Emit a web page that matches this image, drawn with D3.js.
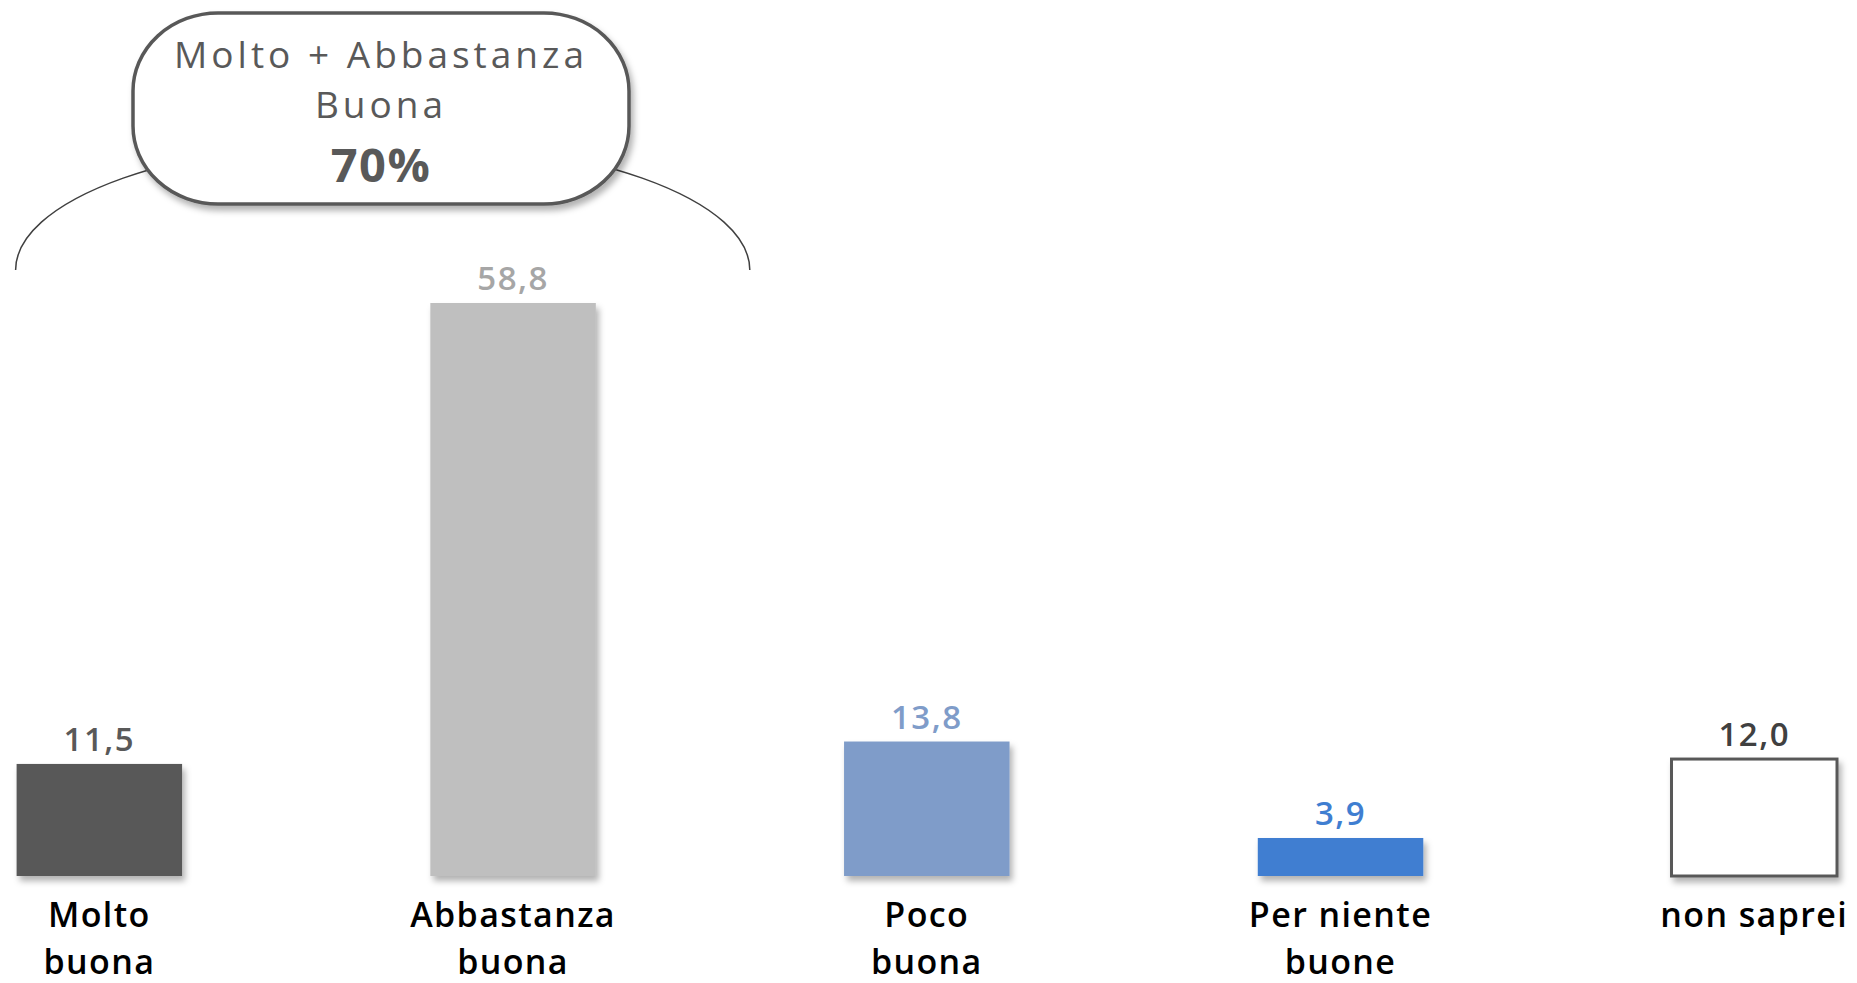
<!DOCTYPE html>
<html><head><meta charset="utf-8">
<script src="https://cdn.jsdelivr.net/npm/d3@7"></script>
<style>html,body{margin:0;padding:0;background:#fff;overflow:hidden}</style>
</head><body>
<svg id="chart" width="1857" height="983"></svg>
<script>
const categories = ["Molto buona", "Abbastanza buona", "Poco buona", "Per niente buone", "non saprei"];
const labelLines = [["Molto", "buona"], ["Abbastanza", "buona"], ["Poco", "buona"], ["Per niente", "buone"], ["non saprei"]];
const values = [11.5, 58.8, 13.8, 3.9, 12.0];
const barColors = ["#595959", "#BFBFBF", "#7F9CC9", "#3F7ED1", "#FFFFFF"];
const labelColors = ["#595959", "#A6A6A6", "#7F9CC9", "#3F7ED1", "#404040"];
const bubbleLines = ["Molto + Abbastanza", "Buona"];
const bubbleTotal = "70%";

const FONT = "'Open Sans', Lato, sans-serif";
const svg = d3.select("#chart");
const defs = svg.append("defs");
const f = defs.append("filter").attr("id","shadow").attr("x","-20%").attr("y","-20%").attr("width","150%").attr("height","150%");
f.append("feDropShadow").attr("dx",3).attr("dy",5).attr("stdDeviation",3).attr("flood-color","#000").attr("flood-opacity",0.3);

const x = d3.scaleBand().domain(categories).range([16.6, 1837]).paddingInner(0.6).paddingOuter(0);
const y = d3.scaleLinear().domain([0, 60]).range([876, 291.3]);

svg.selectAll("rect.bar").data(values).join("rect")
  .attr("class","bar")
  .attr("x",(d,i)=>x(categories[i]))
  .attr("width",x.bandwidth())
  .attr("y",d=>y(d))
  .attr("height",d=>y(0)-y(d))
  .attr("fill",(d,i)=>barColors[i])
  .attr("stroke",(d,i)=>i===4?"#595959":"none")
  .attr("stroke-width",3)
  .attr("filter","url(#shadow)");

const fmt = d3.format(".1f");
svg.selectAll("text.val").data(values).join("text")
  .attr("class","val")
  .attr("x",(d,i)=>x(categories[i])+x.bandwidth()/2)
  .attr("y",d=>y(d)-13)
  .attr("text-anchor","middle")
  .attr("font-family",FONT).attr("font-size",33).attr("font-weight",600)
  .attr("letter-spacing",1.5)
  .attr("fill",(d,i)=>labelColors[i])
  .text(d=>fmt(d).replace(".",","));

// category labels, one text per line
categories.forEach((d,i)=>{
  labelLines[i].forEach((ln,j)=>{
    svg.append("text").attr("class","cat")
      .attr("x",x(d)+x.bandwidth()/2).attr("y",927+j*46.5)
      .attr("text-anchor","middle")
      .attr("font-family",FONT).attr("font-size",34).attr("font-weight",600)
      .attr("letter-spacing",1.4)
      .attr("fill","#000").text(ln);
  });
});

// bracket arc spanning first two bars
const x0 = x(categories[0]) - 1, x1 = x(categories[1]) + x.bandwidth() + 154;
svg.append("path")
  .attr("d",`M ${x0},270 A ${(x1-x0)/2},130 0 0 1 ${x1},270`)
  .attr("fill","none").attr("stroke","#404040").attr("stroke-width",1.5);

// bubble
const bx = 133, bw = 496, byy = 13, bh = 191;
svg.append("rect").attr("x",bx).attr("y",byy).attr("width",bw).attr("height",bh)
  .attr("rx",85).attr("ry",78)
  .attr("fill","#fff").attr("stroke","#595959").attr("stroke-width",3.5)
  .attr("filter","url(#shadow)");
const cx = bx + bw/2;
bubbleLines.forEach((ln,j)=>{
  svg.append("text").attr("x",cx).attr("y",68+j*50).attr("text-anchor","middle")
    .attr("font-family",FONT).attr("font-size",37).attr("letter-spacing",4)
    .attr("fill","#595959").text(ln);
});
svg.append("text").attr("x",cx).attr("y",182).attr("text-anchor","middle")
  .attr("font-family",FONT).attr("font-size",47).attr("font-weight",700).attr("letter-spacing",1.5)
  .attr("fill","#595959").text(bubbleTotal);
</script>
</body></html>
